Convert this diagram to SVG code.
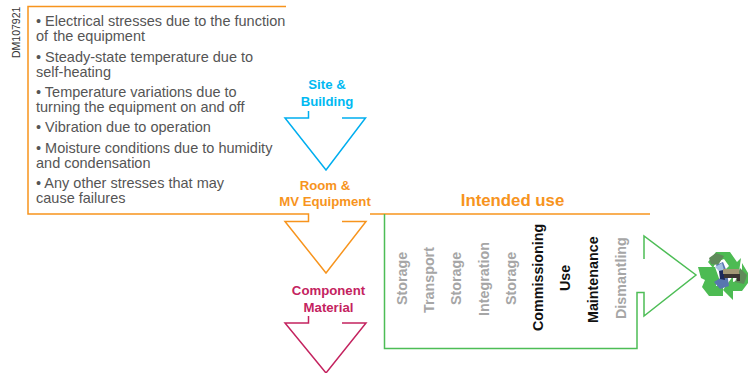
<svg xmlns="http://www.w3.org/2000/svg" width="748" height="373" viewBox="0 0 748 373">
<defs><filter id="soft" x="-5%" y="-5%" width="110%" height="110%"><feGaussianBlur stdDeviation="0.6"/></filter></defs>
<style>
text{font-family:"Liberation Sans",Arial,sans-serif}
.b{font-size:14.5px;fill:#555}
.h{font-size:13.2px;font-weight:bold;text-anchor:middle}
.l{fill:none;stroke-width:1.5}
.v{font-size:14.3px;font-weight:bold;fill:#a6a6a6}
.k{fill:#111}
</style>
<rect width="748" height="373" fill="#fff"/>
<text transform="translate(20,58) rotate(-90)" font-size="10.5" fill="#333">DM107921</text>
<g id="connectors">
<path class="l" stroke="#f7941d" d="M286 6.500H28V214H308.500V221.500H285L326 273L366 221.500H342"/>
<path class="l" stroke="#f7941d" d="M370 214H650"/>
<path class="l" stroke="#00aeef" d="M308.500 111V118H285L326 170L365.500 118H342"/>
<path class="l" stroke="#c4235f" d="M308.500 316V323H285L326 373L366 323H342"/>
<path class="l" stroke="#4dbd56" d="M384.500 214V348.500H637V292.500H644V316L696 275L644 236V259"/>
</g>
<g id="stress-list">
<text class="b" x="36" y="26">• Electrical stresses due to the function</text>
<text class="b" x="36" y="41">of <tspan dx="1">the equipment</tspan></text>
<text class="b" x="36" y="62">• Steady-state temperature due to</text>
<text class="b" x="36" y="77">self-heating</text>
<text class="b" x="36" y="97">• Temperature variations due to</text>
<text class="b" x="36" y="112">turning the equipment on and off</text>
<text class="b" x="36" y="132">• Vibration due to operation</text>
<text class="b" x="36" y="153">• Moisture conditions due to humidity</text>
<text class="b" x="36" y="168">and condensation</text>
<text class="b" x="36" y="188">• Any other stresses that may</text>
<text class="b" x="36" y="203">cause failures</text>
</g>
<g id="site-building"><text class="h" fill="#00b9f2" x="327" y="89">Site &amp;</text><text class="h" fill="#00b9f2" x="327" y="106">Building</text></g>
<g id="room-equipment"><text class="h" fill="#f7941d" x="325" y="190">Room &amp;</text><text class="h" fill="#f7941d" x="325" y="206">MV Equipment</text></g>
<g id="component-material"><text class="h" fill="#c4235f" x="328.500" y="295">Component</text><text class="h" fill="#c4235f" x="328.500" y="312">Material</text></g>
<g id="intended-use"><text x="512.500" y="205.500" font-size="16.800" font-weight="bold" fill="#f7941d" text-anchor="middle">Intended use</text></g>
<g id="phases">
<text class="v" transform="translate(406.500,305) rotate(-90)">Storage</text>
<text class="v" transform="translate(434,313) rotate(-90)">Transport</text>
<text class="v" transform="translate(461,305) rotate(-90)">Storage</text>
<text class="v" transform="translate(488.500,316) rotate(-90)">Integration</text>
<text class="v" transform="translate(516,305) rotate(-90)">Storage</text>
<text class="v k" transform="translate(543,331) rotate(-90)">Commissioning</text>
<text class="v k" transform="translate(570,291) rotate(-90)">Use</text>
<text class="v k" transform="translate(597.500,323) rotate(-90)">Maintenance</text>
<text class="v" transform="translate(625.500,319) rotate(-90)">Dismantling</text>
</g>
<g id="recycle-icon" filter="url(#soft)">
<path fill="#4dbb52" d="M708 262L716 252H730L737 262L741 258L739 272L725 270L729 266L724 259L716 262L713 268Z"/>
<path fill="#4dbb52" d="M698 267L715 267L721 284L716 281L716 286H723V296H709L702 287L705 280L701 278Z"/>
<path fill="#4dbb52" d="M742 263L748 273V283L742 291L733 291V300L723 290L733 276L733 282L742 279Z"/>
<path fill="#5f8a5a" d="M709 258L716 253L724 256L718 265L711 264ZM740 268L747 275L744 284L735 282Z"/>
<path fill="#5876b0" d="M716 265L723 262L727 272L729 286L720 289L714 282L722 277Z"/>
<path fill="#a3bfe0" d="M715 267L722 263L724 270L719 271Z"/>
<path fill="#1d2a5c" d="M719 271L724 270L725 280L720 279Z"/>
<path fill="#a39876" d="M723 269L739 269V274H723Z"/>
<path fill="#3a3630" d="M724 274H740V281H737V278H724Z"/>
</g>
</svg>
